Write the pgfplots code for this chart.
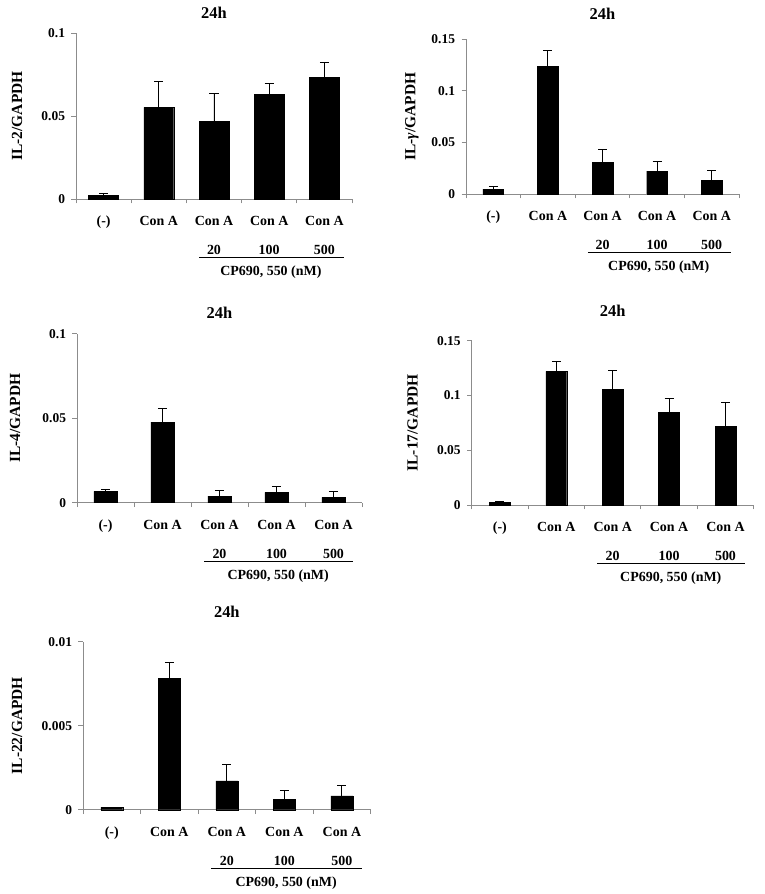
\documentclass[border=0pt]{standalone}
\usepackage{fontspec}
\setmainfont{Liberation Serif}
\usepackage{pgfplots}
\pgfplotsset{compat=1.18}
\definecolor{axisgray}{HTML}{8C8C8C}
\newcommand\tickfont{\fontsize{13.5}{15}\selectfont\bfseries}
\newcommand\catfont{\fontsize{14}{16}\selectfont\bfseries}
\newcommand\titfont{\fontsize{16.5}{18}\selectfont\bfseries}
\newcommand\labfont{\fontsize{15.5}{17}\selectfont\bfseries}
\pgfplotsset{
  panel/.style={
    scale only axis, clip=false,
    axis lines*=left,
    axis line style={draw=axisgray, line width=0.9bp},
    xmin=-0.5, xmax=4.5, ymin=0,
    scaled y ticks=false,
    xtick={-0.5,0.5,1.5,2.5,3.5,4.5},
    x tick label as interval,
    xticklabels={(-),Con A,Con A,Con A,Con A},
    xticklabel style={font=\catfont, anchor=base, yshift=-22bp, inner sep=0pt},
    yticklabel style={font=\tickfont, anchor=east, xshift=-3bp},
    /pgf/number format/assume math mode=true,
    tick align=outside, major tick length=4.5bp,
    tick style={draw=axisgray, line width=0.9bp},
    ybar, bar shift=0pt,
  },
  bars/.style={fill=black, draw=black,
    error bars/.cd, y dir=plus, y explicit,
    error bar style={black, line width=0.9bp},
    error mark options={black, rotate=90, mark size=4.5bp, line width=0.9bp}},
}
\newcommand\annot[3]{%
  \node[font=\titfont, anchor=center] at ([yshift=#1bp]rel axis cs:0.5,1) {24h};
  \node[font=\labfont, rotate=90, anchor=center] at ([xshift=-#2bp]rel axis cs:0,0.5) {#3};
  \node[font=\catfont, anchor=base] at ([yshift=-55.5bp]axis cs:2,0) {20};
  \node[font=\catfont, anchor=base] at ([yshift=-55.5bp]axis cs:3,0) {100};
  \node[font=\catfont, anchor=base] at ([yshift=-55.5bp]axis cs:4,0) {500};
  \draw[black, line width=1.3bp] ([yshift=-58.5bp]axis cs:1.73,0) -- ([yshift=-58.5bp]axis cs:4.35,0);
  \node[font=\catfont, anchor=base] at ([yshift=-76.5bp]axis cs:3.03,0) {CP690, 550 (nM)};
}
\begin{document}
\begin{tikzpicture}
\path[use as bounding box] (0,0) rectangle (765bp,894bp);
% Panel 1: IL-2
\begin{axis}[panel, at={(76bp,695bp)}, anchor=south west, width=276bp, height=166bp,
  ymax=0.1, ytick={0,0.05,0.1}, yticklabels={0,0.05,0.1}, bar width=0.54]
\addplot[bars] coordinates {
  (0,0.0022) +- (0,0.0014)
  (1,0.0552) +- (0,0.0156)
  (2,0.0468) +- (0,0.0165)
  (3,0.0631) +- (0,0.0067)
  (4,0.0734) +- (0,0.0091)
};
\annot{20}{59}{IL-2/GAPDH}
\end{axis}
% Panel 2: IL-gamma
\begin{axis}[panel, at={(466bp,700bp)}, anchor=south west, width=273bp, height=155bp,
  ymax=0.15, ytick={0,0.05,0.1,0.15}, yticklabels={0,0.05,0.1,0.15}, bar width=0.38]
\addplot[bars] coordinates {
  (0,0.0048) +- (0,0.0023)
  (1,0.1236) +- (0,0.0151)
  (2,0.0309) +- (0,0.0122)
  (3,0.0222) +- (0,0.0093)
  (4,0.0135) +- (0,0.0097)
};
\annot{25}{54}{IL-\textit{γ}/GAPDH}
\end{axis}
% Panel 3: IL-4
\begin{axis}[panel, at={(77bp,391.3bp)}, anchor=south west, width=285bp, height=169bp,
  ymax=0.1, ytick={0,0.05,0.1}, yticklabels={0,0.05,0.1}, bar width=0.41]
\addplot[bars] coordinates {
  (0,0.0067) +- (0,0.0014)
  (1,0.0477) +- (0,0.0081)
  (2,0.0039) +- (0,0.0036)
  (3,0.0061) +- (0,0.0034)
  (4,0.0032) +- (0,0.0035)
};
\annot{21}{62}{IL-4/GAPDH}
\end{axis}
% Panel 4: IL-17
\begin{axis}[panel, at={(471.7bp,389bp)}, anchor=south west, width=282bp, height=164.3bp,
  ymax=0.15, ytick={0,0.05,0.1,0.15}, yticklabels={0,0.05,0.1,0.15}, bar width=0.37]
\addplot[bars] coordinates {
  (0,0.0021) +- (0,0.0012)
  (1,0.1220) +- (0,0.0091)
  (2,0.1059) +- (0,0.0170)
  (3,0.0843) +- (0,0.0131)
  (4,0.0715) +- (0,0.0219)
};
\annot{30}{59}{IL-17/GAPDH}
\end{axis}
% Panel 5: IL-22
\begin{axis}[panel, at={(83bp,84.3bp)}, anchor=south west, width=287.7bp, height=168bp,
  ymax=0.01, ytick={0,0.005,0.01}, yticklabels={0,0.005,0.01}, bar width=0.38]
\addplot[bars] coordinates {
  (0,0.00014) +- (0,0)
  (1,0.00782) +- (0,0.00095)
  (2,0.00171) +- (0,0.00099)
  (3,0.00060) +- (0,0.00053)
  (4,0.00082) +- (0,0.00061)
};
\annot{30}{66}{IL-22/GAPDH}
\end{axis}
\end{tikzpicture}
\end{document}
